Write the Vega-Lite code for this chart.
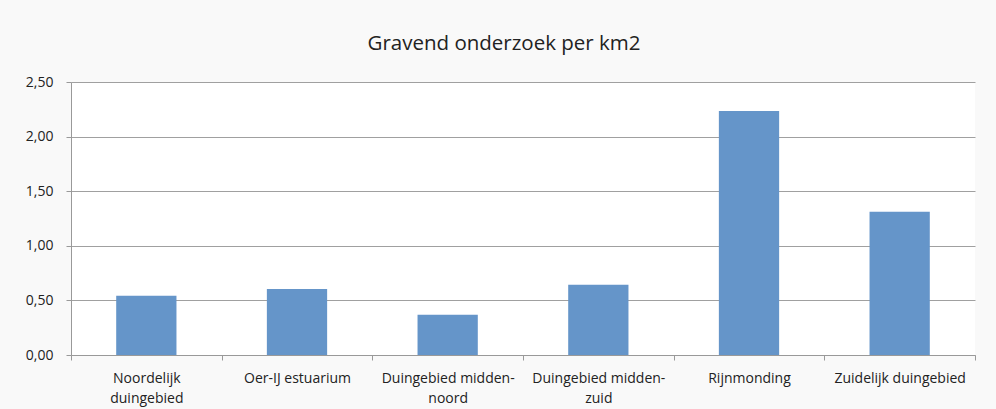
{
  "$schema": "https://vega.github.io/schema/vega-lite/v6.json",
  "width": 904,
  "height": 273,
  "autosize": {"type": "none"},
  "padding": {"left": 71, "top": 82, "right": 21, "bottom": 54},
  "background": "#f9f9f9",
  "title": {
    "text": "Gravend onderzoek per km2",
    "font": "Open Sans",
    "fontSize": 20.5,
    "fontWeight": "normal",
    "color": "#222222",
    "anchor": "middle",
    "dx": -19,
    "offset": 21
  },
  "data": {
    "values": [
      {"gebied": "Noordelijk duingebied", "waarde": 0.543},
      {"gebied": "Oer-IJ estuarium", "waarde": 0.604},
      {"gebied": "Duingebied midden-noord", "waarde": 0.369},
      {"gebied": "Duingebied midden-zuid", "waarde": 0.644},
      {"gebied": "Rijnmonding", "waarde": 2.234},
      {"gebied": "Zuidelijk duingebied", "waarde": 1.312}
    ]
  },
  "mark": {"type": "bar", "color": "#6595C9", "width": {"band": 0.4}},
  "encoding": {
    "x": {
      "field": "gebied",
      "type": "nominal",
      "sort": null,
      "title": null,
      "scale": {"paddingInner": 0, "paddingOuter": 0},
      "axis": {
        "labelAngle": 0,
        "labelFont": "Open Sans",
        "labelFontSize": 14,
        "labelColor": "#222222",
        "labelPadding": 11,
        "labelLineHeight": 20,
        "tickBand": "extent",
        "tickSize": 5,
        "tickColor": "#999999",
        "domainColor": "#999999",
        "labelExpr": "datum.value == 'Noordelijk duingebied' ? ['Noordelijk', 'duingebied'] : datum.value == 'Duingebied midden-noord' ? ['Duingebied midden-', 'noord'] : datum.value == 'Duingebied midden-zuid' ? ['Duingebied midden-', 'zuid'] : datum.value"
      }
    },
    "y": {
      "field": "waarde",
      "type": "quantitative",
      "title": null,
      "scale": {"domain": [0, 2.5], "nice": false},
      "axis": {
        "values": [0, 0.5, 1, 1.5, 2, 2.5],
        "format": ".2f",
        "labelFont": "Open Sans",
        "labelFontSize": 14,
        "labelColor": "#222222",
        "labelPadding": 13,
        "tickSize": 5,
        "tickColor": "#999999",
        "domainColor": "#999999",
        "grid": true,
        "gridColor": "#a0a0a0",
        "gridWidth": 1
      }
    }
  },
  "config": {
    "locale": {
      "number": {"decimal": ",", "thousands": ".", "grouping": [3], "currency": ["€", ""]}
    },
    "view": {"fill": "#ffffff", "stroke": null}
  }
}
